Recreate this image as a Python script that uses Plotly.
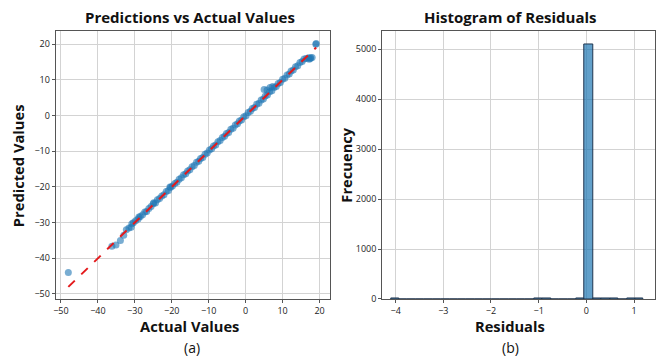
import plotly.graph_objects as go

# ---- data: scatter (a) ----
actual = [-48.0, -36.2, -35.1, -33.9, -33.0, -32.3, -31.6, -31.0, -30.4, -29.8, -29.1, -28.5,
          -27.9, -27.3, -26.8, -26.2, -25.6, -25.0, -24.4, -23.9, -23.3, -22.7, -22.1, -21.5,
          -20.9, -20.3, -19.8, -19.2, -18.6, -18.0, -17.4, -16.8, -16.2, -15.7, -15.1, -14.5,
          -13.9, -13.3, -12.7, -12.2, -11.6, -11.0, -10.4, -9.8, -9.2, -8.7, -8.1, -7.5,
          -6.9, -6.3, -5.7, -5.2, -4.6, -4.0, -3.4, -2.8, -2.2, -1.7, -1.1, -0.5,
          0.1, 0.7, 1.3, 1.8, 2.4, 3.0, 3.6, 4.2, 4.8, 5.3, 5.9, 6.5,
          7.1, 7.7, 8.3, 8.8, 9.4, 10.0, 10.6, 11.2, 11.8, 12.3, 12.9, 13.5,
          14.1, 14.7, 15.3, 15.8, 16.4, 17.0, 17.5, 18.0, 19.0, 19.1,
          5.0, 5.8, 6.6, 7.3, 17.2, 17.6, -30.8, -28.9, -24.9, -20.5]
predicted = [-44.0, -36.6, -36.3, -35.0, -33.5, -32.0, -31.5, -31.3, -30.0, -29.5, -29.0, -28.3,
             -27.8, -27.0, -26.9, -26.0, -25.5, -24.7, -24.5, -23.6, -23.2, -22.5, -22.2, -21.3,
             -21.0, -20.1, -19.7, -19.0, -18.7, -17.8, -17.4, -16.6, -16.3, -15.5, -15.2, -14.3,
             -14.0, -13.1, -12.8, -12.0, -11.7, -10.8, -10.5, -9.6, -9.3, -8.5, -8.2, -7.3,
             -7.0, -6.1, -5.8, -5.0, -4.7, -3.8, -3.5, -2.6, -2.3, -1.5, -1.2, -0.3,
             0.0, 0.9, 1.2, 2.0, 2.3, 3.2, 3.5, 4.4, 4.7, 5.5, 5.8, 6.7,
             7.0, 7.9, 8.2, 9.0, 9.3, 10.2, 10.5, 11.4, 11.7, 12.5, 12.8, 13.7,
             14.0, 14.9, 15.2, 15.9, 16.0, 16.2, 16.0, 16.3, 20.0, 20.2,
             7.3, 7.2, 7.9, 8.2, 15.8, 16.2, -30.3, -28.4, -24.4, -20.0]

# ---- data: histogram (b) ----
bin_start = -4.1
bin_width = 0.1767
counts = [1, 0, 0, 0, 0, 0, 0, 0, 0, 0, 0, 0, 0, 0, 0, 0, 0, 3, 4, 0, 0, 0, 2, 5100, 9, 5, 3, 0, 2, 2]

bin_centers = [bin_start + bin_width * (i + 0.5) for i in range(len(counts))]

fig = go.Figure()

fig.add_trace(go.Scatter(
    x=actual, y=predicted, mode="markers",
    marker=dict(color="#1f77b4", size=7, opacity=0.6, line=dict(width=0)),
    xaxis="x", yaxis="y", showlegend=False))
lo, hi = min(actual), max(actual)
fig.add_trace(go.Scatter(
    x=[lo, hi], y=[lo, hi], mode="lines",
    line=dict(color="#e41a1c", width=2, dash="dash"),
    xaxis="x", yaxis="y", showlegend=False))

fig.add_trace(go.Bar(
    x=bin_centers, y=counts, width=bin_width,
    marker=dict(color="rgba(31,119,180,0.7)", line=dict(color="#1f3550", width=1)),
    xaxis="x2", yaxis="y2", showlegend=False))

grid = "#d3d3d3"
spine = "#555555"
tickfont = dict(family="Open Sans, DejaVu Sans, sans-serif", size=9, color="#222222")
ydom = [59 / 363, 331 / 363]

common = dict(showgrid=True, gridcolor=grid, gridwidth=1, zeroline=False,
              showline=True, linecolor=spine, linewidth=1.2, mirror=True,
              ticks="outside", ticklen=3, tickcolor=spine, tickfont=tickfont)

fig.update_layout(
    width=661, height=363,
    margin=dict(l=0, r=0, t=0, b=0),
    paper_bgcolor="white", plot_bgcolor="white",
    bargap=0,
    xaxis=dict(domain=[53 / 661, 328 / 661], range=[-51.4, 22.7],
               tickvals=[-50, -40, -30, -20, -10, 0, 10, 20], anchor="y", **common),
    yaxis=dict(domain=ydom, range=[-51.4, 23.6],
               tickvals=[-50, -40, -30, -20, -10, 0, 10, 20], anchor="x", **common),
    xaxis2=dict(domain=[381 / 661, 655 / 661], range=[-4.28, 1.44],
                tickvals=[-4, -3, -2, -1, 0, 1], anchor="y2", **common),
    yaxis2=dict(domain=ydom, range=[0, 5353],
                tickvals=[0, 1000, 2000, 3000, 4000, 5000], anchor="x2", **common),
)

tfont = dict(family="Open Sans, DejaVu Sans, sans-serif", size=15, color="#111111")
lfont = dict(family="Open Sans, DejaVu Sans, sans-serif", size=14.7, color="#111111")
sfont = dict(family="Open Sans, DejaVu Sans, sans-serif", size=14, color="#111111")


def ann(text, x, y, font, angle=0):
    fig.add_annotation(text=text, x=x / 661, y=1 - y / 363, xref="paper", yref="paper",
                       showarrow=False, font=font, textangle=angle,
                       xanchor="center", yanchor="middle")


ann("<b>Predictions vs Actual Values</b>", 188, 17, tfont)
ann("<b>Histogram of Residuals</b>", 510, 17, tfont)
ann("<b>Actual Values</b>", 187, 331, lfont)
ann("<b>Residuals</b>", 509, 331, lfont)
ann("<b>Predicted Values</b>", 15, 168, lfont, -90)
ann("<b>Frecuency</b>", 345, 168, lfont, -90)
ann("(a)", 190, 353, sfont)
ann("(b)", 510, 353, sfont)

fig.write_html("out.html")
